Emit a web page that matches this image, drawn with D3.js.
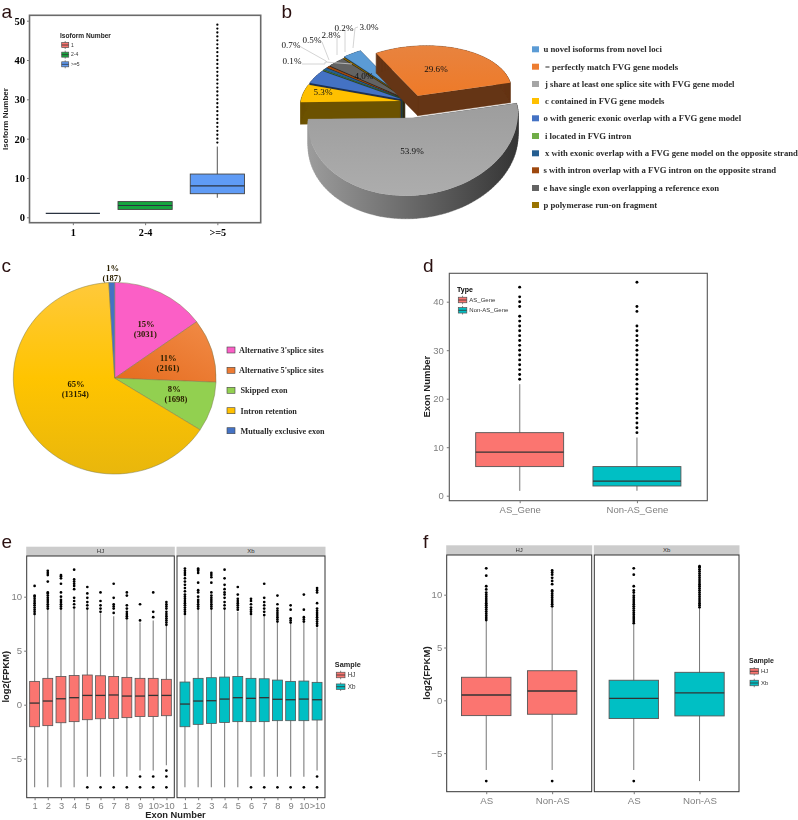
<!DOCTYPE html>
<html><head><meta charset="utf-8">
<script src="https://cdnjs.cloudflare.com/ajax/libs/d3/7.8.5/d3.min.js"></script>
<style>html,body{margin:0;padding:0;background:#fff}svg{display:block;filter:blur(.35px)}</style></head>
<body><svg id="c" width="798" height="820"></svg>
<script>
// ---------- DATA ----------
const isoformCats = ["1","2-4",">=5"];
const isoformStats = [
  {lo:1,q1:1,med:1,q3:1,hi:1,out:[]},
  {lo:2,q1:2,med:3,q3:4,hi:4,out:[]},
  {lo:5,q1:6,med:8,q3:11,hi:18,out:[19,20,21,22,23,24,25,26,27,28,29,30,31,32,33,34,35,36,37,38,39,40,41,42,43,44,45,46,47,48,49]}
];
const classCodes = ["u novel isoforms from novel loci","= perfectly match FVG gene models","j share at least one splice site with FVG gene model","c contained in FVG gene models","o with generic exonic overlap with a FVG gene model","i located in FVG intron","x with exonic overlap with a FVG gene model on the opposite strand","s with intron overlap with a FVG intron on the opposite strand","e have single exon overlapping a reference exon","p polymerase run-on fragment"];
const classPct = [3.0,29.6,53.9,5.3,4.0,0.1,0.7,0.5,2.8,0.2];
const classColors = ["#5b9bd5","#ed7d31","#a5a5a5","#ffc000","#4472c4","#70ad47","#255e91","#9e480e","#636363","#997300"];
const asTypes = ["Alternative 3'splice sites","Alternative 5'splice sites","Skipped exon","Intron retention","Mutually exclusive exon"];
const asCounts = [3031,2161,1698,13154,187];
const asPct = ["15%","11%","8%","65%","1%"];
const asColors = ["#fb5fc6","#ed7b33","#92d050","#ffc000","#4472c4"];
const exonCats = ["AS_Gene","Non-AS_Gene"];
const exonStats = [
  {lo:1,q1:6,med:9,q3:13,hi:23,out:[24,25,26,27,28,29,30,31,32,33,34,35,36,37,39,40,41,43]},
  {lo:1,q1:2,med:3,q3:6,hi:12,out:[13,14,15,16,17,18,19,20,21,22,23,24,25,26,27,28,29,30,31,32,33,34,35,38,39,44]}
];
const exonNumberCats = ["1","2","3","4","5","6","7","8","9","10",">10"];
const fpkmHJ = [
  {lo:-7.65,q1:-2.04,med:.15,q3:2.16,hi:8.3,out:[8.4,8.6,8.8,9,9.2,9.4,9.6,9.8,10,10.1,11]},
  {lo:-7.65,q1:-1.94,med:.34,q3:2.44,hi:8.85,out:[8.9,9.1,9.3,9.5,9.7,9.9,10.1,10.3,10.4,11.4,12,12.2,12.4]},
  {lo:-7.65,q1:-1.67,med:.55,q3:2.62,hi:8.8,out:[8.9,9.1,9.3,9.5,9.7,10,10.4,11.2,11.7,11.9,12]},
  {lo:-7.65,q1:-1.57,med:.65,q3:2.7,hi:8.9,out:[9,9.3,9.6,9.9,10.7,11,11.2,11.4,11.6,12.5]},
  {lo:-6.67,q1:-1.39,med:.86,q3:2.75,hi:8.8,out:[8.9,9.2,9.5,9.9,10.3,10.9,-7.65]},
  {lo:-6.67,q1:-1.3,med:.86,q3:2.68,hi:8.45,out:[8.6,8.9,9.2,9.6,10.4,-7.65]},
  {lo:-6.67,q1:-1.27,med:.9,q3:2.62,hi:8.2,out:[8.5,8.9,9.1,9.3,9.9,11.2,-7.65]},
  {lo:-6.67,q1:-1.2,med:.8,q3:2.53,hi:7.9,out:[8,8.2,8.4,8.6,8.9,9.2,10.1,10.4,-7.65]},
  {lo:-6.1,q1:-1.1,med:.8,q3:2.44,hi:7.6,out:[7.8,9.3,-6.65,-7.65]},
  {lo:-6.1,q1:-1.1,med:.86,q3:2.44,hi:7.8,out:[8.1,8.6,10.4,-6.65,-7.65]},
  {lo:-5.6,q1:-1.02,med:.86,q3:2.35,hi:7.3,out:[7.4,7.6,7.8,8,8.2,8.4,8.6,8.9,9.1,9.3,9.5,-6.1,-6.65,-7.65]}
];
const fpkmXb = [
  {lo:-7.65,q1:-2.04,med:.06,q3:2.1,hi:8.3,out:[8.4,8.6,8.8,9,9.2,9.4,9.6,9.8,10,10.2,10.5,10.8,11.1,11.4,11.7,12,12.2,12.4,12.6]},
  {lo:-7.65,q1:-1.82,med:.34,q3:2.44,hi:8.8,out:[8.9,9.1,9.3,9.5,9.7,10,10.4,10.6,11.3,12.2,12.4,12.5,12.6]},
  {lo:-7.65,q1:-1.73,med:.37,q3:2.5,hi:8.77,out:[8.9,9.1,9.3,9.5,9.7,9.9,10.1,10.4,11.3,11.8,12,12.2]},
  {lo:-7.65,q1:-1.64,med:.52,q3:2.56,hi:8.8,out:[8.9,9.2,9.5,9.9,10.2,10.4,10.7,11.1,11.7,12.5]},
  {lo:-7.65,q1:-1.57,med:.65,q3:2.62,hi:8.6,out:[8.8,9,9.2,9.4,9.6,9.8,10.2,10.9]},
  {lo:-6.67,q1:-1.57,med:.59,q3:2.44,hi:8.3,out:[8.4,8.6,8.8,9,9.3,9.6,9.8,-7.65]},
  {lo:-6.67,q1:-1.57,med:.65,q3:2.4,hi:8.2,out:[8.3,8.6,8.9,9.2,9.5,9.9,11.2,-7.65]},
  {lo:-6.67,q1:-1.48,med:.5,q3:2.28,hi:7.6,out:[7.7,7.9,8.1,8.3,8.5,8.7,8.9,9.3,10.1,-7.65]},
  {lo:-6.67,q1:-1.48,med:.46,q3:2.16,hi:7.5,out:[7.6,7.8,8,8.8,9.2,-7.65]},
  {lo:-6.67,q1:-1.48,med:.52,q3:2.19,hi:7.6,out:[7.7,7.9,8.1,8.8,10.2,-7.65]},
  {lo:-6.1,q1:-1.42,med:.46,q3:2.07,hi:7.15,out:[7.3,7.5,7.7,7.9,8.1,8.3,8.5,8.7,8.9,9.4,10.4,10.6,10.8,-6.65,-7.65]}
];
const typeCats = ["AS","Non-AS"];
const typeHJ = [
  {lo:-6.6,q1:-1.45,med:.5,q3:2.18,hi:7.54,out:[7.6,7.8,8,8.2,8.4,8.6,8.8,9,9.2,9.4,9.6,9.8,10,10.2,10.5,10.8,11.8,12.5,-7.65]},
  {lo:-6.6,q1:-1.32,med:.88,q3:2.8,hi:8.8,out:[8.9,9.1,9.3,9.5,9.7,9.9,10.1,10.3,10.4,11,11.3,11.6,11.9,12.1,12.3,-7.65]}
];
const typeXb = [
  {lo:-6.6,q1:-1.73,med:.19,q3:1.9,hi:7.2,out:[7.3,7.5,7.7,7.9,8.1,8.3,8.5,8.7,8.9,9.1,9.3,9.5,9.7,9.9,10.2,10.4,10.8,11.9,12.5,-7.65]},
  {lo:-7.65,q1:-1.48,med:.7,q3:2.65,hi:8.7,out:[8.8,9,9.2,9.4,9.6,9.8,10,10.2,10.4,10.6,10.8,11,11.2,11.4,11.6,11.8,12,12.2,12.4,12.6,12.7]}
];
const RED="#fb7570", TEAL="#00bfc4", GREEN="#16a53f", BLUE="#5f9bf5";

// ---------- HELPERS ----------
const svg=d3.select("#c");
const SANS="'Liberation Sans',Arial,sans-serif", SERIF="'Liberation Serif',serif";
function txt(g,x,y,s,o={}){
  return g.append("text").attr("x",x).attr("y",y).attr("dy",".35em").text(s)
   .attr("font-family",o.ff||SANS).attr("font-size",o.fs||8).attr("font-weight",o.fw||"normal")
   .attr("fill",o.fill||"#000").attr("text-anchor",o.a||"start")
   .attr("transform",o.rot?`rotate(${o.rot} ${x} ${y})`:null);
}
function frame(g,x0,y0,x1,y1,c,w){
  g.append("rect").attr("x",x0).attr("y",y0).attr("width",x1-x0).attr("height",y1-y0)
   .attr("fill","none").attr("stroke",c||"#333").attr("stroke-width",w||1.2);
}
function yAxis(g,x,y,vals,o){
  const a=g.append("g").attr("transform",`translate(${x},0)`).call(d3.axisLeft(y).tickValues(vals).tickSize(2.5).tickPadding(o.pad||2));
  a.select(".domain").remove();
  a.selectAll("line").attr("stroke",o.tick||"#777");
  a.selectAll("text").attr("font-family",o.ff||SANS).attr("font-size",o.fs).attr("font-weight",o.fw||"normal").attr("fill",o.fill);
}
function xAxis(g,y,x,o){
  const a=g.append("g").attr("transform",`translate(0,${y})`).call(d3.axisBottom(x).tickSize(2.5).tickPadding(o.pad||2));
  a.select(".domain").remove();
  a.selectAll("line").attr("stroke",o.tick||"#777");
  a.selectAll("text").attr("font-family",o.ff||SANS).attr("font-size",o.fs).attr("font-weight",o.fw||"normal").attr("fill",o.fill);
}
function boxes(g,x,y,cats,stats,o){
  const bw=x.step()*.75;
  const sel=g.selectAll(null).data(stats).enter().append("g").attr("transform",(d,i)=>`translate(${x(cats[i])},0)`);
  sel.append("line").attr("y1",d=>y(d.lo)).attr("y2",d=>y(d.hi)).attr("stroke",o.wh||"#808080").attr("stroke-width",o.ww||1.2);
  sel.append("rect").attr("x",-bw/2).attr("width",bw).attr("y",d=>y(d.q3)).attr("height",d=>y(d.q1)-y(d.q3))
    .attr("fill",(d,i)=>o.fills[i%o.fills.length]).attr("stroke",o.stroke||"#555").attr("stroke-width",o.sw||.9);
  sel.append("line").attr("x1",-bw/2).attr("x2",bw/2).attr("y1",d=>y(d.med)).attr("y2",d=>y(d.med)).attr("stroke",o.medc||"#333").attr("stroke-width",o.mw||1.3);
  sel.selectAll("circle").data(d=>d.out).enter().append("circle").attr("cy",d=>y(d)).attr("r",o.r||1.4).attr("fill","#000");
}
function legendKey(g,x,y,w,h,fill,stroke){
  g.append("line").attr("x1",x+w/2).attr("x2",x+w/2).attr("y1",y-h/2-1.5).attr("y2",y+h/2+1.5).attr("stroke",stroke||"#555").attr("stroke-width",.7);
  g.append("rect").attr("x",x).attr("y",y-h/2).attr("width",w).attr("height",h).attr("fill",fill).attr("stroke",stroke||"#555").attr("stroke-width",.7);
  g.append("line").attr("x1",x).attr("x2",x+w).attr("y1",y).attr("y2",y).attr("stroke",stroke||"#333").attr("stroke-width",.8);
}
function letter(s,x,base){
  svg.append("text").attr("x",x).attr("y",base).text(s).attr("font-family",SANS).attr("font-size",19).attr("fill","#2a1010");
}

// ---------- PANEL A ----------
{
  const g=svg.append("g");
  const y=d3.scaleLinear().domain([0,50]).range([217.3,20.7]);
  const x=d3.scalePoint().domain(isoformCats).range([29.5,260.7]).padding(.6);
  boxes(g,x,y,isoformCats,isoformStats,{fills:[RED,GREEN,BLUE],r:1.15,stroke:"#444",medc:"#2a3340",mw:1.2,wh:"#707070"});
  frame(g,29.5,15.3,260.7,222.7,"#6a6a6a",1.6);
  yAxis(g,29.5,y,[0,10,20,30,40,50],{ff:SERIF,fs:10.5,fw:"bold",fill:"#000"});
  xAxis(g,222.7,x,{ff:SERIF,fs:10.2,fw:"bold",fill:"#000",pad:4});
  txt(g,5.5,119,"Isoform Number",{fs:8,fw:"bold",fill:"#222",a:"middle",rot:-90});
  txt(g,60,36,"Isoform Number",{fs:6.6,fw:"bold",fill:"#222"});
  [["1",RED],["2-4",GREEN],[">=5",BLUE]].forEach((d,i)=>{
    legendKey(g,61.7,45+i*9.65,7,5,d[1]);
    txt(g,71,45+i*9.65,d[0],{fs:5,fill:"#333"});
  });
}
// ---------- PANEL B ----------
{
  const g=svg.append("g");
  const defs=svg.append("defs");
  const gw=defs.append("linearGradient").attr("id","wall");
  gw.append("stop").attr("offset","0").attr("stop-color","#9c9c9c");
  gw.append("stop").attr("offset","1").attr("stop-color","#343434");
  const gt=defs.append("linearGradient").attr("id","greyTop").attr("x2",0).attr("y2",1);
  gt.append("stop").attr("offset","0").attr("stop-color","#9d9d9d");
  gt.append("stop").attr("offset","1").attr("stop-color","#adadad");
  const go=defs.append("linearGradient").attr("id","orTop").attr("x2",0).attr("y2",1);
  go.append("stop").attr("offset","0").attr("stop-color","#e8833f");
  go.append("stop").attr("offset","1").attr("stop-color","#ee7a28");

  const rad=d=>d*Math.PI/180;
  const arcs=d3.pie().sort(null).startAngle(rad(-37)).endAngle(rad(323))(classPct);
  const cx=412, cy=102, flatFar=.53, flatNear=.74, shear=.05;
  const proj=(t,r)=>{
    const dx=Math.sin(t)*r, c=Math.cos(t);
    return [dx,-c*r*(c>0?flatFar:flatNear)-shear*dx];
  };
  const explode=i=>i===2?21.6:i===1?12.6:i===0?14:12;
  const radius=i=>i===2?105:i===1?94:100;
  const depth=i=>i===2?23:i===1?20:22;
  const outline=(a,i)=>{
    const mid=(a.startAngle+a.endAngle)/2, e=proj(mid,explode(i)), ax=cx+e[0], ay=cy+e[1];
    const n=Math.max(2,Math.ceil((a.endAngle-a.startAngle)/rad(2)));
    const pts=[[ax,ay]];
    d3.range(n+1).forEach(k=>{
      const p=proj(a.startAngle+(a.endAngle-a.startAngle)*k/n,radius(i));
      pts.push([ax+p[0],ay+p[1]]);
    });
    return pts;
  };
  const line=d3.line();
  const order=[0,9,8,7,6,5,4,3,1,2];
  order.forEach(i=>{
    const pts=outline(arcs[i],i), h=depth(i);
    const side=i===2?"url(#wall)":d3.color(classColors[i]).darker(2.4).formatHex();
    let dp="";
    pts.forEach((p,k)=>{
      const q=pts[(k+1)%pts.length];
      let quad=[p,q,[q[0],q[1]+h],[p[0],p[1]+h]];
      if(d3.polygonArea(quad)<0) quad=quad.reverse();
      dp+=line(quad)+"Z";
    });
    g.append("path").attr("d",dp).attr("fill",side).attr("stroke",side).attr("stroke-width",.4);
    g.append("path").attr("d",line(pts)+"Z")
      .attr("fill",i===2?"url(#greyTop)":i===1?"url(#orTop)":classColors[i]);
  });
  const leaders=[[[302,64],[325,64],[325,62],[352,64]],[[301,47],[326,61],[327,62]],[[322,42],[329,60]],[[337,38],[337,55]],[[345,31],[345,52]],[[358,27],[355,28],[353,48]]];
  leaders.forEach(l=>g.append("path").attr("d",line(l)).attr("fill","none").attr("stroke","#c9c9c9").attr("stroke-width",.8));
  const sf={ff:SERIF,fs:9.1,a:"middle",fill:"#111"};
  txt(g,292,61,"0.1%",sf); txt(g,291,45,"0.7%",sf); txt(g,312,40,"0.5%",sf);
  txt(g,331,35,"2.8%",sf); txt(g,344,28,"0.2%",sf); txt(g,369,27,"3.0%",sf);
  txt(g,364,76,"4.0%",sf); txt(g,323,92,"5.3%",sf); txt(g,436,69,"29.6%",sf); txt(g,412,151,"53.9%",sf);
  const ly=[49.3,66.7,84,101,118.3,136,153.3,170.3,188,205], lx=[543.5,545,545,545,543.5,545,545,543.5,543.5,543.5];
  classCodes.forEach((s,i)=>{
    g.append("rect").attr("x",532).attr("y",ly[i]-3).attr("width",7).attr("height",6).attr("fill",classColors[i]);
    txt(g,lx[i],ly[i],s,{ff:SERIF,fs:8.7,fw:"bold",fill:"#2a2a2a"});
  });
}
// ---------- PANEL C ----------
{
  const g=svg.append("g");
  const root=g.append("g").attr("transform","translate(114.7,378.2) scale(1,.945)");
  const defs=svg.append("defs");
  const lg=defs.append("linearGradient").attr("id","yel").attr("gradientUnits","userSpaceOnUse").attr("x1",0).attr("x2",0).attr("y1",-100).attr("y2",100);
  lg.append("stop").attr("offset","0").attr("stop-color","#ffc93a");
  lg.append("stop").attr("offset",".5").attr("stop-color","#ffc400");
  lg.append("stop").attr("offset","1").attr("stop-color","#e9b70c");
  const lo=defs.append("linearGradient").attr("id","org").attr("x1",.9).attr("x2",0).attr("y1",0).attr("y2",1);
  lo.append("stop").attr("offset","0").attr("stop-color","#f18a45");
  lo.append("stop").attr("offset","1").attr("stop-color","#e56b1e");
  const arc=d3.arc().innerRadius(0).outerRadius(101.4);
  const pie=d3.pie().sort(null)(asCounts);
  const fills=["#fb5fc6","url(#org)","#92d050","url(#yel)","#4472c4"];
  root.selectAll("path").data(pie).enter().append("path").attr("d",arc).attr("fill",(d,i)=>fills[i]).attr("stroke","#7d7a4a").attr("stroke-width",.5);
  const st={ff:SERIF,fs:8.6,fw:"bold",a:"middle",fill:"#2b2000"};
  const pos=[[146,324,145.3,333.7],[168.3,358.3,168,368.3],[174.3,389.3,176,399],[76,384.3,75.3,394.3],[112.7,267.5,111.7,277.5]];
  asCounts.forEach((v,i)=>{
    txt(g,pos[i][0],pos[i][1],asPct[i],st);
    txt(g,pos[i][2],pos[i][3],"("+v+")",st);
  });
  const ly=[350,370.3,390.3,410.7,430.7], lx=[239,239,240.5,240.5,240.5];
  asTypes.forEach((s,i)=>{
    g.append("rect").attr("x",227).attr("y",ly[i]-3).attr("width",8).attr("height",6).attr("fill",asColors[i]).attr("stroke","#444").attr("stroke-width",.6);
    txt(g,lx[i],ly[i],s,{ff:SERIF,fs:8.2,fw:"bold",fill:"#2a2a2a"});
  });
}
// ---------- PANEL D ----------
{
  const g=svg.append("g");
  const y=d3.scaleLinear().domain([0,40]).range([495.7,301.7]);
  const x=d3.scalePoint().domain(exonCats).range([449.3,707.3]).padding(.6);
  boxes(g,x,y,exonCats,exonStats,{fills:[RED,TEAL],r:1.45,ww:1.4,wh:"#9a9a9a"});
  frame(g,449.3,273.3,707.3,500.7,"#555",1.1);
  yAxis(g,449.3,y,[0,10,20,30,40],{fs:9.5,fill:"#7f7f7f",pad:3});
  xAxis(g,500.7,x,{fs:9.5,fill:"#7f7f7f",pad:3});
  txt(g,426.7,386.7,"Exon Number",{fs:9.5,fw:"bold",a:"middle",rot:-90,fill:"#222"});
  txt(g,457,289.3,"Type",{fs:7,fw:"bold"});
  legendKey(g,458.3,300,8.5,5.5,RED);
  legendKey(g,458.3,310.3,8.5,5.5,TEAL);
  txt(g,469.3,300,"AS_Gene",{fs:6,fill:"#333"});
  txt(g,469.3,310.3,"Non-AS_Gene",{fs:6,fill:"#333"});
}
// ---------- PANELS E, F ----------
function facet(x0,x1,top,stripTop,bottom,label,cats,stats,y,fill,oo){
  const g=svg.append("g");
  g.append("rect").attr("x",x0-.5).attr("y",stripTop).attr("width",x1-x0+1).attr("height",top-stripTop).attr("fill","#cccccc");
  txt(g,(x0+x1)/2,(top+stripTop)/2,label,{fs:6,a:"middle",fill:"#333"});
  const x=d3.scalePoint().domain(cats).range([x0,x1]).padding(.6);
  boxes(g,x,y,cats,stats,Object.assign({fills:[fill]},oo));
  frame(g,x0,top,x1,bottom,"#333",1);
  xAxis(g,bottom,x,{fs:oo.xfs||10.5,fill:"#7f7f7f",pad:oo.xpad||3});
}
{
  const y=d3.scaleLinear().domain([0,10]).range([704.7,596.7]);
  const oo={r:1.35,ww:1.2,sw:.8,wh:"#8a8a8a",xfs:9.3,xpad:2};
  facet(26.7,174.3,556,546.7,797.7,"HJ",exonNumberCats,fpkmHJ,y,RED,oo);
  facet(177,325,556,546.7,797.7,"Xb",exonNumberCats,fpkmXb,y,TEAL,oo);
  const g=svg.append("g");
  yAxis(g,26.7,y,[-5,0,5,10],{fs:9.6,fill:"#7f7f7f",pad:2});
  txt(g,6,676.7,"log2(FPKM)",{fs:9.3,fw:"bold",a:"middle",rot:-90,fill:"#222"});
  txt(g,175.5,815.2,"Exon Number",{fs:9.3,fw:"bold",a:"middle",fill:"#222"});
  txt(g,334.8,664,"Sample",{fs:7.3,fw:"bold",fill:"#222"});
  legendKey(g,336.3,675,8.7,5.5,RED);
  legendKey(g,336.3,686.7,8.7,5.5,TEAL);
  txt(g,347.7,675,"HJ",{fs:6.3,fill:"#333"});
  txt(g,347.7,686.7,"Xb",{fs:6.3,fill:"#333"});
}
{
  const y=d3.scaleLinear().domain([0,10]).range([700.3,594.7]);
  const oo={r:1.4,ww:.9,sw:.9,wh:"#666",xfs:9.7,xpad:3};
  facet(446.7,591.7,555,545.3,791.7,"HJ",typeCats,typeHJ,y,RED,oo);
  facet(594.3,739,555,545.3,791.7,"Xb",typeCats,typeXb,y,TEAL,oo);
  const g=svg.append("g");
  yAxis(g,446.7,y,[-5,0,5,10],{fs:9.5,fill:"#7f7f7f",pad:2});
  txt(g,427,673,"log2(FPKM)",{fs:9.6,fw:"bold",a:"middle",rot:-90,fill:"#222"});
  txt(g,749,660.7,"Sample",{fs:7,fw:"bold",fill:"#222"});
  legendKey(g,750,671.3,8.5,5.5,RED);
  legendKey(g,750,683,8.5,5.5,TEAL);
  txt(g,761,671.3,"HJ",{fs:6,fill:"#333"});
  txt(g,761,683,"Xb",{fs:6,fill:"#333"});
}
letter("a",1.5,17.5); letter("b",281.5,17.5); letter("c",1.5,271.7); letter("d",423,271.7); letter("e",1.5,548); letter("f",423,548);
</script></body></html>
